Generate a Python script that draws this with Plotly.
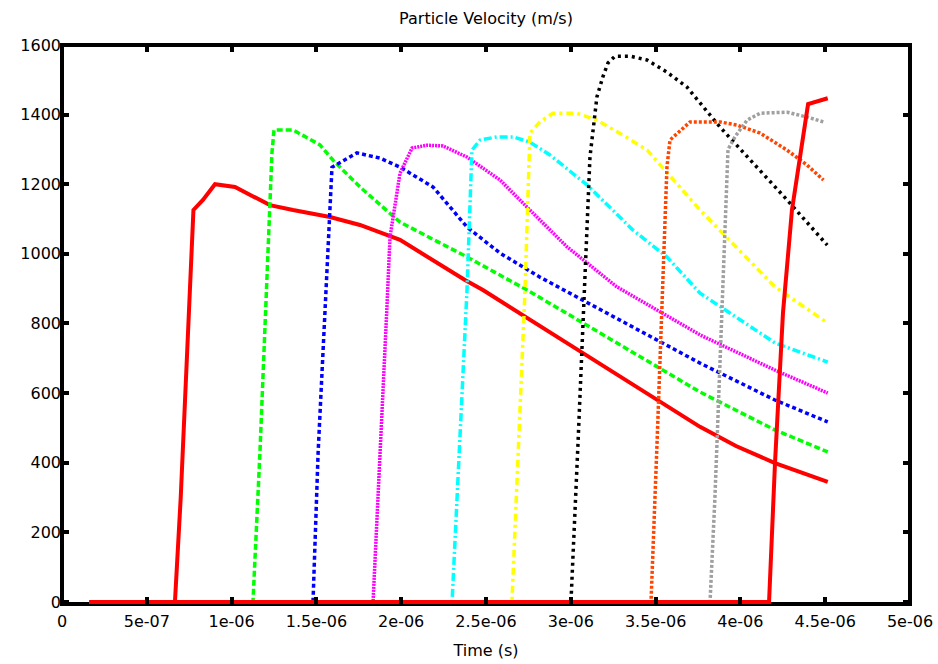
import plotly.graph_objects as go

# time in microseconds, velocity in m/s
s1_t = [0.16, 0.666, 0.70, 0.74, 0.775, 0.831, 0.902, 1.02, 1.226, 1.362, 1.58, 1.757, 1.993, 2.376, 2.482, 2.983, 3.479, 3.762, 3.974, 4.204, 4.515]
s1_v = [0, 0, 300, 720, 1126, 1155, 1200, 1192, 1140, 1126, 1106, 1083, 1040, 925, 896, 742, 590, 503, 448, 399, 345]

s2_t = [0.16, 1.126, 1.167, 1.209, 1.238, 1.25, 1.362, 1.521, 1.598, 1.757, 1.798, 1.993, 2.388, 2.742, 2.983, 3.479, 3.762, 4.204, 4.515]
s2_v = [0, 0, 428, 905, 1290, 1356, 1356, 1313, 1269, 1192, 1175, 1091, 991, 896, 827, 686, 603, 494, 431]

s3_t = [0.16, 1.48, 1.51, 1.54, 1.565, 1.592, 1.739, 1.875, 1.993, 2.188, 2.388, 2.583, 2.818, 2.983, 3.479, 3.762, 4.204, 4.515]
s3_v = [0, 0, 428, 716, 1002, 1249, 1290, 1275, 1249, 1192, 1077, 1002, 933, 890, 762, 686, 580, 517]

s4_t = [0.16, 1.834, 1.916, 1.934, 1.993, 2.064, 2.15, 2.246, 2.388, 2.583, 2.742, 2.978, 3.272, 3.479, 3.762, 4.204, 4.515]
s4_v = [0, 0, 847, 1048, 1232, 1304, 1312, 1310, 1278, 1212, 1134, 1020, 905, 847, 767, 666, 600]

s5_t = [0.16, 2.300, 2.388, 2.417, 2.465, 2.565, 2.659, 2.759, 2.877, 3.096, 3.367, 3.567, 3.762, 4.204, 4.515]
s5_v = [0, 0, 896, 1298, 1327, 1336, 1336, 1321, 1284, 1198, 1068, 991, 887, 744, 689]

s6_t = [0.16, 2.653, 2.73, 2.759, 2.818, 2.895, 3.037, 3.154, 3.308, 3.45, 3.762, 4.204, 4.515]
s6_v = [0, 0, 896, 1347, 1379, 1404, 1404, 1384, 1341, 1298, 1126, 905, 801]

s7_t = [0.16, 3.001, 3.042, 3.083, 3.095, 3.113, 3.154, 3.19, 3.219, 3.261, 3.349, 3.449, 3.567, 3.685, 3.88, 4.074, 4.275, 4.512]
s7_v = [0, 0, 450, 916, 1089, 1278, 1451, 1510, 1548, 1568, 1568, 1557, 1522, 1479, 1364, 1261, 1155, 1025]

s8_t = [0.16, 3.473, 3.508, 3.544, 3.567, 3.585, 3.703, 3.88, 3.98, 4.116, 4.275, 4.393, 4.49]
s8_v = [0, 0, 450, 905, 1250, 1327, 1379, 1379, 1370, 1347, 1298, 1255, 1212]

s9_t = [0.16, 3.821, 3.850, 3.892, 3.915, 3.927, 3.968, 4.039, 4.116, 4.275, 4.393, 4.49]
s9_v = [0, 0, 302, 868, 1155, 1300, 1336, 1384, 1404, 1407, 1393, 1379]

s10_t = [0.16, 4.169, 4.204, 4.251, 4.304, 4.399, 4.515]
s10_v = [0, 0, 399, 830, 1126, 1430, 1447]

series = [
    (s1_t, s1_v, "#ff0000", "solid", 4),
    (s2_t, s2_v, "#00ff00", "6px,3px", 3.5),
    (s3_t, s3_v, "#0000ff", "4px,3px", 3.5),
    (s4_t, s4_v, "#ff00ff", "2px,1px", 3.5),
    (s5_t, s5_v, "#00ffff", "8px,3px,2px,3px", 3.5),
    (s6_t, s6_v, "#ffff00", "7px,4px,3px,4px", 3.5),
    (s7_t, s7_v, "#000000", "3px,4px", 3.5),
    (s8_t, s8_v, "#ff4500", "3px,2px", 3.5),
    (s9_t, s9_v, "#a0a0a0", "3px,2px", 3.5),
    (s10_t, s10_v, "#ff0000", "solid", 4),
]

x_tickvals = [0, 0.5e-6, 1e-6, 1.5e-6, 2e-6, 2.5e-6, 3e-6, 3.5e-6, 4e-6, 4.5e-6, 5e-6]
x_ticktext = ["0", "5e-07", "1e-06", "1.5e-06", "2e-06", "2.5e-06", "3e-06", "3.5e-06", "4e-06", "4.5e-06", "5e-06"]
y_tickvals = [0, 200, 400, 600, 800, 1000, 1200, 1400, 1600]

fig = go.Figure()
for t, v, color, dash, w in series:
    fig.add_trace(go.Scatter(
        x=[ti * 1e-6 for ti in t], y=v, mode="lines",
        line=dict(color=color, dash=dash, width=w),
        showlegend=False, hoverinfo="skip",
    ))

font = dict(family="DejaVu Sans", size=16, color="#000000")

fig.update_layout(
    width=938, height=664,
    margin=dict(l=62, r=28, t=45, b=60),
    paper_bgcolor="white", plot_bgcolor="white",
    font=font,
    title=dict(text="Particle Velocity (m/s)", x=0.5, xref="paper", xanchor="center",
               y=1 - 18 / 664, yref="container", yanchor="middle", font=font),
    shapes=[dict(type="rect", xref="paper", yref="paper", x0=0, x1=1, y0=0, y1=1,
                 line=dict(color="black", width=4), layer="below")],
)
fig.update_xaxes(
    range=[0, 5e-6], tickvals=x_tickvals, ticktext=x_ticktext, automargin=False,
    ticks="inside", ticklen=7, tickwidth=4, tickcolor="black", mirror="ticks",
    showline=False, showgrid=False, zeroline=False, ticklabelstandoff=6,
    title=dict(text="Time (s)", font=font, standoff=14), tickfont=font,
)
fig.update_yaxes(
    range=[-6, 1600], tickvals=y_tickvals, automargin=False,
    ticks="inside", ticklen=7, tickwidth=4, tickcolor="black", mirror="ticks",
    showline=False, showgrid=False, zeroline=False, tickfont=font,
)

fig.write_html("out.html", config={"displayModeBar": False},
               post_script="document.body.style.margin='0px';document.body.style.overflow='hidden';")
